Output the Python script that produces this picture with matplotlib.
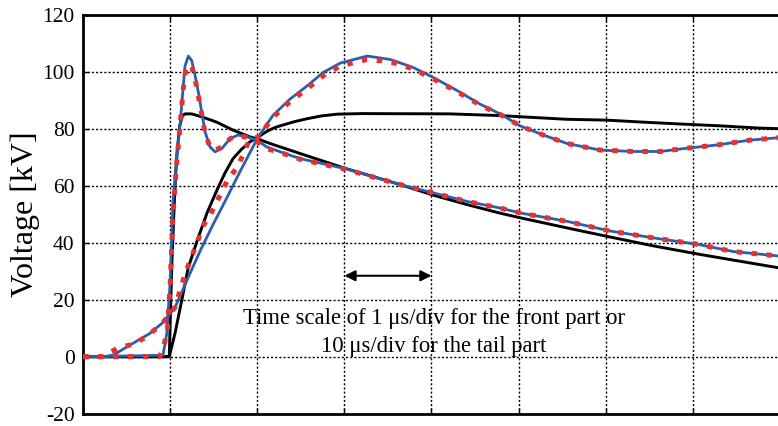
import numpy as np
import matplotlib
matplotlib.use("Agg")
import matplotlib.pyplot as plt

# x is in grid divisions (1 us/div front, 10 us/div tail), y in kV
black_fast_x = [0, 0.99, 1.018, 1.045, 1.06, 1.08, 1.11, 1.14, 1.171, 1.248, 1.378, 1.535, 1.722,
                1.917, 2.009, 2.147, 2.491, 3.008, 3.640, 4.030, 4.405, 4.782, 5.025, 5.553,
                6.050, 6.544, 7.061, 7.463, 7.964, 8.0]
black_fast_y = [0, 0, 31, 52, 62, 72, 81, 84.5, 85.2, 85.2, 84, 82.3, 79.5,
                77.1, 76.4, 74.8, 71.3, 66.1, 60.4, 56.6, 53.4, 50.4, 48.7, 45.2,
                42, 38.9, 36, 33.9, 31.3, 31.1]

black_slow_x = [0, 0.99, 1.056, 1.133, 1.206, 1.309, 1.424, 1.538, 1.63, 1.722, 1.82,
                1.917, 2.009, 2.08, 2.150, 2.22, 2.296, 2.43, 2.572, 2.74, 2.916, 3.2, 4.213,
                4.788, 5.132, 5.557, 6.016, 6.429, 6.889, 7.314, 7.773, 8.0]
black_slow_y = [0, 0, 8.2, 19.7, 31, 40.6, 50.5, 58.5, 64.5, 69.5, 72.8,
                75.4, 77, 78.5, 79.7, 80.6, 81.3, 82.5, 83.5, 84.5, 85.1, 85.3, 85.2,
                84.6, 84, 83.3, 83, 82.3, 81.6, 81, 80.2, 80]

blue_fast_x = [0, 0.918, 0.961, 0.999, 1.033, 1.076, 1.114, 1.151, 1.171, 1.209, 1.248, 1.286,
               1.324, 1.363, 1.401, 1.458, 1.515, 1.592, 1.688, 1.780, 1.880, 1.994, 2.109,
               2.300, 2.491, 3.008, 3.640, 4.030, 4.405, 4.782, 5.025, 5.553, 6.050, 6.544,
               7.061, 7.463, 7.964, 8.0]
blue_fast_y = [0, 0.5, 8, 25.6, 54.5, 69.6, 81.3, 95, 102, 105.5, 103.9, 98.7,
               92.8, 85.8, 78.9, 73.6, 71.9, 73, 76.5, 77.8, 77.1, 76, 73.6,
               71.5, 69.5, 66, 60.4, 57.4, 54.5, 52.2, 50.4, 47.5, 44.1, 41.7,
               39.4, 36.9, 35.4, 35.2]

red_fast_x = [0, 0.88, 0.93, 0.97, 1.0, 1.033, 1.076, 1.114, 1.151, 1.18, 1.21, 1.25, 1.29,
              1.324, 1.363, 1.401, 1.458, 1.515, 1.592, 1.688, 1.780, 1.880, 1.994, 2.109,
              2.300, 2.491, 3.008, 3.640, 4.030, 4.405, 4.782, 5.025, 5.553, 6.050, 6.544,
              7.061, 7.463, 7.964, 8.0]
red_fast_y = [0, 0, 4, 10, 25, 50, 68, 81, 94, 101, 102.5, 101.5, 97,
              91.5, 85, 78.5, 73.5, 72.5, 73.5, 76.5, 77.5, 77, 75.5, 73,
              71.3, 69.3, 65.8, 60.4, 57.4, 54.5, 52.2, 50.4, 47.5, 44.1, 41.7,
              39.4, 36.9, 35.4, 35.2]

blue_slow_x = [0, 0.253, 0.348, 0.574, 0.769, 0.918, 1.056, 1.133, 1.206, 1.343, 1.493, 1.630,
               1.803, 2.009, 2.181, 2.376, 2.572, 2.755, 2.951, 3.261, 3.525, 3.789, 4.018,
               4.294, 4.558, 4.788, 5.017, 5.281, 5.557, 5.936, 6.315, 6.625, 6.889, 7.279,
               7.658, 7.968, 8.0]
blue_slow_y = [0, 0, 0.6, 4.7, 8.2, 12, 17.3, 22.6, 27.7, 37, 46.4, 54.5,
               65, 77, 84.7, 90.4, 95, 99.7, 103, 105.5, 104.3, 101.5, 98,
               93.4, 88.6, 85.2, 81, 77.8, 74.8, 72.5, 72, 72, 73, 74.3,
               76, 76.8, 76.9]

red_slow_x = [0, 0.22, 0.40, 0.574, 0.73, 0.918, 1.056, 1.171, 1.309, 1.378, 1.481, 1.65,
              1.78, 1.917, 2.009, 2.181, 2.376, 2.572, 2.755, 2.951, 3.261, 3.525, 3.789,
              4.018, 4.294, 4.558, 4.788, 5.017, 5.281, 5.557, 5.936, 6.315, 6.625, 6.889,
              7.279, 7.658, 7.968, 8.0]
red_slow_y = [0, 0, 3, 4.4, 7, 12, 17.3, 29, 40, 45.8, 51, 61.4,
              67, 76.5, 77, 84, 89.5, 94, 98.5, 102, 104.3, 103.5, 101,
              97.5, 93, 88.3, 85, 81, 77.8, 74.8, 72.5, 72, 72, 73,
              74.3, 76, 76.8, 76.9]

y_ticks = [-20, 0, 20, 40, 60, 80, 100, 120]
note_lines = ["Time scale of 1 \u03bcs/div for the front part or",
              "10 \u03bcs/div for the tail part"]

BLUE = "#2b5fad"
RED = "#e8302f"

plt.rcParams["font.family"] = ["Liberation Serif", "DejaVu Serif"]
plt.rcParams["axes.unicode_minus"] = False

fig = plt.figure(figsize=(7.78, 4.26), dpi=100)
ax = fig.add_axes([83 / 778, 12.3 / 426, 697 / 778, 399 / 426])

for bx, by in [(black_fast_x, black_fast_y), (black_slow_x, black_slow_y)]:
    ax.plot(bx, by, color="black", lw=2.1, zorder=3)
for bx, by in [(blue_fast_x, blue_fast_y), (blue_slow_x, blue_slow_y)]:
    ax.plot(bx, by, color=BLUE, lw=2.0, zorder=4)
for rx, ry in [(red_fast_x, red_fast_y), (red_slow_x, red_slow_y)]:
    ax.plot(rx, ry, color=RED, lw=3.6, linestyle=(0, (1.1, 1.9)), zorder=5)

ax.set_xlim(0, 8)
ax.set_ylim(-20, 120)
ax.set_xticks(np.arange(0, 9))
ax.set_xticklabels([])
ax.set_yticks(y_ticks)
ax.tick_params(axis="both", direction="in", length=4, width=1, labelsize=15.5, pad=6,
               top=True, right=False)
ax.grid(True, color="black", lw=1.0, linestyle=(0, (1.5, 1.5)))
for side in ["left", "top", "bottom", "right"]:
    ax.spines[side].set_linewidth(2.0)

ax.annotate("", xy=(3.0, 28.4), xytext=(4.0, 28.4),
            arrowprops=dict(arrowstyle="<|-|>", color="black", lw=1.5,
                            mutation_scale=16, shrinkA=0, shrinkB=0))
ax.text(4.03, 11.4, note_lines[0], ha="center", va="baseline", fontsize=16.3, zorder=6)
ax.text(4.03, 1.7, note_lines[1], ha="center", va="baseline", fontsize=16.3, zorder=6)

fig.text(25 / 778, 1 - 214 / 426, "Voltage [kV]", rotation=90, ha="center", va="center",
         fontsize=23)

fig.savefig("out.png", dpi=100)
